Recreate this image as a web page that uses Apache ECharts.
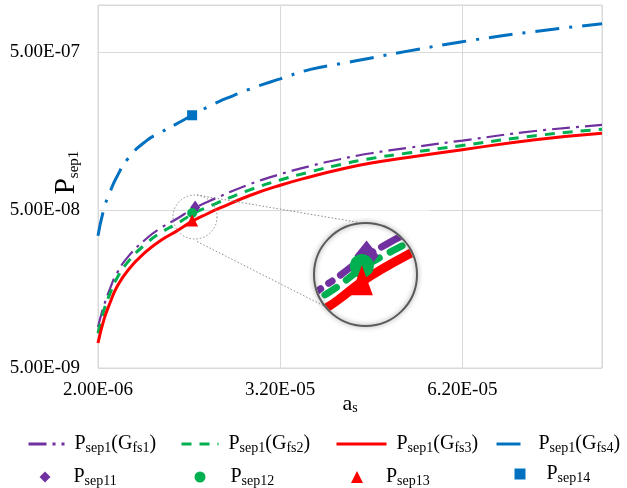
<!DOCTYPE html>
<html>
<head>
<meta charset="utf-8">
<script src="https://cdn.jsdelivr.net/npm/echarts@6/dist/echarts.min.js"></script>
<style>
html, body { margin: 0; padding: 0; background: #fff; }
#chart { width: 627px; height: 488px; }
</style>
</head>
<body>
<div id="chart"></div>
<script>
// a_s in units of 1E-06
const aValues = [2, 3, 4, 5, 7, 10, 12.5, 15, 17.5, 20, 22, 27, 32, 37, 42, 47, 53, 62, 74, 85]
const pGfs1 = [9.1e-9, 1.25e-8, 1.6e-8, 1.96e-8, 2.55e-8, 3.31e-8, 3.89e-8, 4.42e-8, 5.06e-8, 5.64e-8, 6.1e-8, 7.32e-8, 8.46e-8, 9.54e-8, 1.057e-7, 1.149e-7, 1.242e-7, 1.383e-7, 1.589e-7, 1.736e-7]
const pGfs2 = [8.3e-9, 1.17e-8, 1.49e-8, 1.82e-8, 2.37e-8, 3.09e-8, 3.63e-8, 4.11e-8, 4.71e-8, 5.23e-8, 5.64e-8, 6.73e-8, 7.78e-8, 8.77e-8, 9.76e-8, 1.064e-7, 1.152e-7, 1.287e-7, 1.484e-7, 1.631e-7]
const pGfs3 = [7.2e-9, 1.02e-8, 1.3e-8, 1.6e-8, 2.1e-8, 2.75e-8, 3.25e-8, 3.7e-8, 4.25e-8, 4.75e-8, 5.15e-8, 6.2e-8, 7.2e-8, 8.15e-8, 9.1e-8, 9.95e-8, 1.08e-7, 1.21e-7, 1.4e-7, 1.54e-7]
const pGfs4 = [3.45e-8, 5.15e-8, 6.55e-8, 8.0e-8, 1.07e-7, 1.38e-7, 1.57e-7, 1.77e-7, 2.0e-7, 2.25e-7, 2.45e-7, 2.93e-7, 3.4e-7, 3.91e-7, 4.25e-7, 4.62e-7, 5.1e-7, 5.85e-7, 6.8e-7, 7.6e-7]
// single points: [a_s (1E-06), P]
const pSep11 = [18, 5.2e-8]
const pSep12 = [17.5, 4.8e-8]
const pSep13 = [17.5, 4.3e-8]
const pSep14 = [17.5, 2.0e-7]
// axis range
const X_MIN = 2
const X_MAX = 85
const X_STEP = 30
const Y_MIN = 5e-9
const Y_MAX = 1e-6

const FONT = 'Liberation Serif'
const COLORS = { g1: '#7030a0', g2: '#00b050', g3: '#ff0000', g4: '#0070c0' }

// inset (magnifier) placement
const IN_CX = 365.5, IN_CY = 274.5, IN_R = 51.5

function sci(v) {
	let parts = v.toExponential(2).split('e')
	let n = parseInt(parts[1], 10)
	return parts[0] + 'E' + (n < 0 ? '-' : '+') + String(Math.abs(n)).padStart(2, '0')
}
function toXY(xs, ys) {
	return xs.map((a, i) => [a - X_MIN, Math.log10(ys[i] / Y_MIN)])
}
function pointXY(p) {
	return [[p[0] - X_MIN, Math.log10(p[1] / Y_MIN)]]
}
function maskPoints() {
	let h = 64, r = IN_R - 1, cx = IN_CX, cy = IN_CY
	let pts = [[cx + h, cy], [cx + h, cy + h], [cx - h, cy + h], [cx - h, cy - h], [cx + h, cy - h], [cx + h, cy], [cx + r, cy]]
	for (let i = 1; i <= 90; i++) {
		let t = i / 90 * 2 * Math.PI
		pts.push([cx + r * Math.cos(t), cy - r * Math.sin(t)])
	}
	return pts
}

const richText = {
	p: { fontFamily: FONT, fontSize: 20, color: '#000', lineHeight: 23 },
	s: { fontFamily: FONT, fontSize: 14, color: '#000', lineHeight: 11, verticalAlign: 'bottom' }
}
const legendLabels = {
	'Gfs1': '{p|P}{s|sep1}{p|(G}{s|fs1}{p|)}',
	'Gfs2': '{p|P}{s|sep1}{p|(G}{s|fs2}{p|)}',
	'Gfs3': '{p|P}{s|sep1}{p|(G}{s|fs3}{p|)}',
	'Gfs4': '{p|P}{s|sep1}{p|(G}{s|fs4}{p|)}',
	'S11': '{p|P}{s|sep11}',
	'S12': '{p|P}{s|sep12}',
	'S13': '{p|P}{s|sep13}',
	'S14': '{p|P}{s|sep14}'
}
function legendItem(name, left, top, w, h, pad, isLine) {
	return {
		data: [name],
		left: left,
		top: top,
		itemWidth: w,
		itemHeight: h,
		selectedMode: false,
		symbolKeepAspect: true,
		lineStyle: { width: 3 },
		itemStyle: isLine ? { opacity: 0 } : {},
		formatter: n => legendLabels[n],
		textStyle: { padding: [0, 0, 0, pad], rich: richText }
	}
}

function lineSeries(name, ys, color, width, type, inset) {
	return {
		name: inset ? 'inset-' + name : name,
		type: 'line',
		xAxisIndex: inset ? 1 : 0,
		yAxisIndex: inset ? 1 : 0,
		data: toXY(aValues, ys),
		symbol: 'none',
		smooth: 0.5,
		silent: true,
		lineStyle: { color: color, width: width, type: type, cap: inset ? 'round' : 'butt' },
		itemStyle: { color: color },
		z: 2
	}
}
function pointSeries(name, p, color, symbol, size, inset) {
	return {
		name: inset ? 'inset-' + name : name,
		type: 'scatter',
		xAxisIndex: inset ? 1 : 0,
		yAxisIndex: inset ? 1 : 0,
		data: pointXY(p),
		symbol: symbol,
		symbolSize: size,
		silent: true,
		itemStyle: { color: color, opacity: 1 },
		z: 4
	}
}

const chart = echarts.init(document.getElementById('chart'))
const dotted = { stroke: '#8c8c8c', lineWidth: 1, lineDash: [1.5, 2], fill: 'none' }

const option = {
	animation: false,
	backgroundColor: '#fff',
	grid: [
		{ left: 98, top: 5, right: 25, bottom: 120, show: true, borderColor: '#d9d9d9', borderWidth: 1, outerBoundsMode: 'none' },
		{ left: IN_CX - 52, top: IN_CY - 52, width: 104, height: 104, outerBoundsMode: 'none' }
	],
	xAxis: [
		{
			type: 'value',
			gridIndex: 0,
			min: 0,
			max: X_MAX - X_MIN,
			interval: X_STEP,
			name: '{a|a}{s|s}',
			nameLocation: 'middle',
			nameGap: 25,
			nameMoveOverlap: false,
			nameTextStyle: {
				rich: {
					a: { fontFamily: FONT, fontSize: 22, color: '#000', lineHeight: 22 },
					s: { fontFamily: FONT, fontSize: 14, color: '#000', lineHeight: 10, verticalAlign: 'bottom' }
				}
			},
			axisLine: { show: false },
			axisTick: { show: false },
			splitLine: { show: true, lineStyle: { color: '#d9d9d9', width: 1 } },
			axisLabel: {
				fontFamily: FONT,
				fontSize: 19,
				color: '#000',
				margin: 13,
				showMaxLabel: false,
				formatter: v => sci((v + X_MIN) * 1e-6)
			}
		},
		{ type: 'value', gridIndex: 1, show: false, min: 10.35, max: 21.43 }
	],
	yAxis: [
		{
			type: 'value',
			gridIndex: 0,
			min: 0,
			max: Math.log10(Y_MAX / Y_MIN),
			interval: 1,
			name: '{p|P}{s|sep1}',
			nameLocation: 'middle',
			nameRotate: 90,
			nameGap: 16,
			nameMoveOverlap: false,
			nameTextStyle: {
				padding: [0, 0, 0, 28],
				rich: {
					p: { fontFamily: FONT, fontSize: 29, color: '#000', lineHeight: 32 },
					s: { fontFamily: FONT, fontSize: 15, color: '#000', lineHeight: 14, verticalAlign: 'bottom' }
				}
			},
			axisLine: { show: false },
			axisTick: { show: false },
			splitLine: { show: true, lineStyle: { color: '#d9d9d9', width: 1 } },
			axisLabel: {
				fontFamily: FONT,
				fontSize: 19,
				color: '#000',
				margin: 18,
				showMaxLabel: false,
				formatter: v => sci(Y_MIN * Math.pow(10, v))
			}
		},
		{ type: 'value', gridIndex: 1, show: false, min: 0.78, max: 1.127 }
	],
	legend: [
		legendItem('Gfs1', 22, 429, 36, 14, 5, true),
		legendItem('Gfs2', 175, 429, 37, 14, 5, true),
		legendItem('Gfs3', 330, 429, 50, 14, 5, true),
		legendItem('Gfs4', 490, 429, 32, 14, 5, true),
		legendItem('S11', 34.5, 462, 11, 11, 18, false),
		legendItem('S12', 189.5, 462, 11, 11, 20, false),
		legendItem('S13', 346, 462, 12, 12, 18, false),
		legendItem('S14', 509.5, 459, 11, 11, 16, false)
	],
	series: [
		lineSeries('Gfs1', pGfs1, COLORS.g1, 2.2, [18, 6, 3, 6], false),
		lineSeries('Gfs2', pGfs2, COLORS.g2, 3, [10, 8], false),
		lineSeries('Gfs3', pGfs3, COLORS.g3, 3, 'solid', false),
		lineSeries('Gfs4', pGfs4, COLORS.g4, 3, [24, 10, 3, 10], false),
		pointSeries('S11', pSep11, COLORS.g1, 'diamond', [10, 14], false),
		pointSeries('S12', pSep12, COLORS.g2, 'circle', 10, false),
		pointSeries('S13', pSep13, COLORS.g3, 'triangle', 12, false),
		pointSeries('S14', pSep14, COLORS.g4, 'rect', 10, false),
		lineSeries('Gfs1', pGfs1, COLORS.g1, 7, [26, 10, 4, 10], true),
		lineSeries('Gfs2', pGfs2, COLORS.g2, 7, [14, 12], true),
		lineSeries('Gfs3', pGfs3, COLORS.g3, 9, 'solid', true),
		pointSeries('S11', pSep11, COLORS.g1, 'diamond', [24, 30], true),
		pointSeries('S12', pSep12, COLORS.g2, 'circle', 24, true),
		pointSeries('S13', pSep13, COLORS.g3, 'triangle', [22, 30], true)
	],
	graphic: [
		{ type: 'polygon', shape: { points: maskPoints() }, style: { fill: '#fff' }, silent: true, z: 50 },
		{ type: 'circle', shape: { cx: IN_CX, cy: IN_CY, r: IN_R }, style: { fill: 'none', stroke: '#5a5a5a', lineWidth: 2, shadowBlur: 5, shadowColor: 'rgba(0,0,0,0.45)' }, silent: true, z: 51 },
		{ type: 'circle', shape: { cx: 195, cy: 217, r: 22 }, style: dotted, silent: true, z: 51 },
		{ type: 'line', shape: { x1: 197, y1: 195, x2: 359, y2: 222.5 }, style: dotted, silent: true, z: 51 },
		{ type: 'line', shape: { x1: 197, y1: 241.5, x2: 325, y2: 306.5 }, style: dotted, silent: true, z: 51 }
	]
}
chart.setOption(option)
</script>
</body>
</html>
